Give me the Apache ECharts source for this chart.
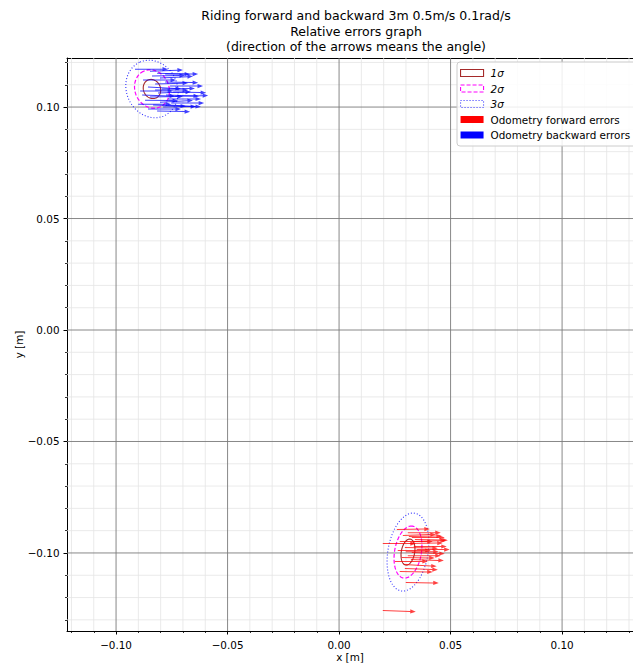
<!DOCTYPE html>
<html>
<head>
<meta charset="utf-8">
<script src="https://cdn.jsdelivr.net/npm/echarts@6/dist/echarts.min.js"></script>
<style>
  html, body { margin: 0; padding: 0; background: #ffffff; }
  #chart { width: 633px; height: 665px; }
</style>
</head>
<body>
<div id="chart"></div>
<script>
// ---- Text ----
const TITLE_LINES = [
  'Riding forward and backward 3m 0.5m/s 0.1rad/s',
  'Relative errors graph',
  '(direction of the arrows means the angle)'
];
const X_NAME = 'x [m]';
const Y_NAME = 'y [m]';
const SIGMA_NAMES = ['1σ', '2σ', '3σ'];
const SIGMA_LEVELS = [1, 2, 3];
const FORWARD_NAME = 'Odometry forward errors';
const BACKWARD_NAME = 'Odometry backward errors';

// ---- Axes ----
const X_RANGE = [-0.1220, 0.1318];
const Y_RANGE = [-0.1350, 0.1220];
const X_MAJOR = [-0.10, -0.05, 0.00, 0.05, 0.10];
const Y_MAJOR = [-0.10, -0.05, 0.00, 0.05, 0.10];
const X_MINOR = [-0.12, -0.11, -0.09, -0.08, -0.07, -0.06, -0.04, -0.03, -0.02, -0.01,
                 0.01, 0.02, 0.03, 0.04, 0.06, 0.07, 0.08, 0.09, 0.11, 0.12, 0.13];
const Y_MINOR = [-0.13, -0.12, -0.11, -0.09, -0.08, -0.07, -0.06, -0.04, -0.03, -0.02, -0.01,
                 0.01, 0.02, 0.03, 0.04, 0.06, 0.07, 0.08, 0.09, 0.11, 0.12];

// ---- Forward run: arrow tails [m] and heading error [deg] ----
const FORWARD_X = [0.0259, 0.0308, 0.0286, 0.0326, 0.0340, 0.0272, 0.0196, 0.0317, 0.0335,
                   0.0295, 0.0348, 0.0263, 0.0326, 0.0308, 0.0281, 0.0322, 0.0250, 0.0290,
                   0.0295, 0.0272, 0.0299, 0.0196, 0.0313, 0.0299, 0.0331];
const FORWARD_Y = [-0.0895, -0.0909, -0.0922, -0.0931, -0.0940, -0.0949, -0.0958, -0.0958, -0.0971,
                   -0.0976, -0.0985, -0.0989, -0.0998, -0.1012, -0.1020, -0.1029, -0.1038, -0.1052,
                   -0.1070, -0.1083, -0.1132, -0.1258, -0.0926, -0.0994, -0.0949];
const FORWARD_ANGLE = [1, 0, 2, 0, -1, 0, 0, 1, 0,
                       -1, 0, 0, -2, 0, -1, -2, 0, -3,
                       -2, -1, -1, -2, 1, 0, 2];

// ---- Backward run: arrow tails [m] and heading error [deg] ----
const BACKWARD_X = [-0.0915, -0.0816, -0.0839, -0.0803, -0.0879, -0.0780, -0.0825, -0.0758, -0.0857,
                    -0.0794, -0.0744, -0.0892, -0.0812, -0.0776, -0.0848, -0.0767, -0.0870, -0.0803,
                    -0.0753, -0.0834, -0.0901, -0.0789, -0.0816, -0.0857, -0.0780, -0.0848, -0.0735,
                    -0.0883, -0.0767, -0.0825];
const BACKWARD_Y = [0.1170, 0.1152, 0.1139, 0.1130, 0.1121, 0.1112, 0.1103, 0.1094, 0.1090,
                    0.1081, 0.1067, 0.1072, 0.1063, 0.1054, 0.1045, 0.1036, 0.1031, 0.1022,
                    0.1018, 0.1009, 0.1013, 0.1000, 0.0982, 0.0991, 0.1148, 0.1161, 0.1049,
                    0.1054, 0.1009, 0.1076];
const BACKWARD_ANGLE = [0, -2, 1, 3, 0, -1, 2, 0, -3,
                        1, -1, 0, 2, -2, 1, 0, -1, 3,
                        0, -2, 0, 1, -1, 0, 0, 2, 1,
                        -2, -3, 0];

// ---- 1-sigma error ellipses: backward cluster, forward cluster ----
const ELLIPSE_CX = [-0.0839, 0.0309];
const ELLIPSE_CY = [0.1081, -0.0996];
const ELLIPSE_A = [0.0044, 0.0059];      // semi-major axis [m]
const ELLIPSE_B = [0.0038, 0.0030];      // semi-minor axis [m]
const ELLIPSE_ANGLE = [115, 80];         // orientation of the major axis [deg]

// ---- Styles ----
const FONT = 'DejaVu Sans';
const FS = 10.4;
const ARROW_LEN = 33;   // px
const SIGMA_STYLES = [
  { stroke: '#a52a2a', lineWidth: 1.1, lineDash: null, legendDash: 'solid' },
  { stroke: '#ff00ff', lineWidth: 1.2, lineDash: [4, 2], legendDash: [4, 2] },
  { stroke: '#3030ff', lineWidth: 1.1, lineDash: [1, 2], legendDash: [1, 2] }
];

const fmtTick = v => (v < -1e-9 ? '\u2212' : '') + Math.abs(v).toFixed(2);

// grid lines built from the tick lists
const gridData = []
  .concat(X_MINOR.map(v => [v, 0, 0]))
  .concat(Y_MINOR.map(v => [v, 1, 0]))
  .concat(X_MAJOR.map(v => [v, 0, 1]))
  .concat(Y_MAJOR.map(v => [v, 1, 1]));

function renderGridLine(params, api) {
  const v = api.value(0), dir = api.value(1), major = api.value(2);
  let p1, p2;
  if (dir === 0) { p1 = api.coord([v, Y_RANGE[0]]); p2 = api.coord([v, Y_RANGE[1]]); }
  else { p1 = api.coord([X_RANGE[0], v]); p2 = api.coord([X_RANGE[1], v]); }
  return {
    type: 'line',
    shape: { x1: p1[0], y1: p1[1], x2: p2[0], y2: p2[1] },
    style: { stroke: major ? '#7a7a7a' : '#e4e4e4', lineWidth: major ? 0.9 : 0.8 }
  };
}

function makeArrowRenderer(color) {
  return function (params, api) {
    const p0 = api.coord([api.value(0), api.value(1)]);
    const a = api.value(2) * Math.PI / 180;
    const ux = Math.cos(a), uy = -Math.sin(a);
    const nx = -uy, ny = ux;
    const hl = 5.5, hw = 2.1, sw = 0.5;
    const L = ARROW_LEN;
    const b = [p0[0] + ux * (L - hl), p0[1] + uy * (L - hl)];
    const pts = [
      [p0[0] + nx * sw, p0[1] + ny * sw],
      [b[0] + nx * sw, b[1] + ny * sw],
      [b[0] + nx * hw, b[1] + ny * hw],
      [p0[0] + ux * L, p0[1] + uy * L],
      [b[0] - nx * hw, b[1] - ny * hw],
      [b[0] - nx * sw, b[1] - ny * sw],
      [p0[0] - nx * sw, p0[1] - ny * sw]
    ];
    return {
      type: 'polygon',
      shape: { points: pts },
      style: { fill: color, opacity: 0.75, stroke: 'none' }
    };
  };
}

function makeEllipseRenderer(k, st) {
  return function (params, api) {
    const cx = api.value(0), cy = api.value(1);
    const A = api.value(2) * k, B = api.value(3) * k;
    const phi = api.value(4) * Math.PI / 180;
    const pts = [];
    for (let i = 0; i < 120; i++) {
      const t = i / 120 * Math.PI * 2;
      const x = cx + A * Math.cos(t) * Math.cos(phi) - B * Math.sin(t) * Math.sin(phi);
      const y = cy + A * Math.cos(t) * Math.sin(phi) + B * Math.sin(t) * Math.cos(phi);
      pts.push(api.coord([x, y]));
    }
    const style = { fill: 'none', stroke: st.stroke, lineWidth: st.lineWidth };
    if (st.lineDash) style.lineDash = st.lineDash;
    return { type: 'polygon', shape: { points: pts }, style: style };
  };
}

const ellipseData = ELLIPSE_CX.map((cx, i) =>
  [cx, ELLIPSE_CY[i], ELLIPSE_A[i], ELLIPSE_B[i], ELLIPSE_ANGLE[i]]);
const forwardData = FORWARD_X.map((x, i) => [x, FORWARD_Y[i], FORWARD_ANGLE[i]]);
const backwardData = BACKWARD_X.map((x, i) => [x, BACKWARD_Y[i], BACKWARD_ANGLE[i]]);

const chart = echarts.init(document.getElementById('chart'), null, { renderer: 'svg', width: 633, height: 665 });

const axisText = { fontFamily: FONT, fontSize: FS, color: '#000' };

const series = [
  {
    type: 'custom', name: 'grid', silent: true, clip: true, z: 1,
    renderItem: renderGridLine, data: gridData
  }
];
SIGMA_LEVELS.forEach((k, i) => {
  series.push({
    type: 'custom', name: SIGMA_NAMES[i], silent: true, clip: true, z: 3,
    itemStyle: { color: SIGMA_STYLES[i].stroke },
    renderItem: makeEllipseRenderer(k, SIGMA_STYLES[i]), data: ellipseData
  });
});
series.push({
  type: 'custom', name: FORWARD_NAME, silent: true, clip: true, z: 4,
  itemStyle: { color: '#ff0000' },
  renderItem: makeArrowRenderer('#ff0000'), data: forwardData
});
series.push({
  type: 'custom', name: BACKWARD_NAME, silent: true, clip: true, z: 4,
  itemStyle: { color: '#0000ff' },
  renderItem: makeArrowRenderer('#0000ff'), data: backwardData
});

const legendData = SIGMA_NAMES.map((n, i) => ({
  name: n, icon: 'rect',
  itemStyle: { color: 'rgba(0,0,0,0)', borderColor: SIGMA_STYLES[i].stroke, borderWidth: 1.1, borderType: SIGMA_STYLES[i].legendDash }
})).concat([
  { name: FORWARD_NAME, icon: 'rect', itemStyle: { color: '#ff0000', borderWidth: 0 } },
  { name: BACKWARD_NAME, icon: 'rect', itemStyle: { color: '#0000ff', borderWidth: 0 } }
]);

chart.setOption({
  animation: false,
  backgroundColor: '#ffffff',
  textStyle: { fontFamily: FONT },
  graphic: [{
    type: 'text', x: 356, y: 8, silent: true,
    style: {
      text: TITLE_LINES.join('\n'), fontFamily: FONT, fontSize: 12.5, lineHeight: 15.5,
      fill: '#000', align: 'center', verticalAlign: 'top'
    }
  }],
  grid: {
    left: 67, top: 58, right: 0, height: 573,
    outerBoundsMode: 'none', containLabel: false,
    show: true, borderWidth: 0, backgroundColor: '#ffffff'
  },
  legend: {
    orient: 'vertical', left: 457, top: 62,
    itemWidth: 23, itemHeight: 7, itemGap: 3.5,
    padding: [5, 9, 5, 3],
    backgroundColor: 'rgba(255,255,255,0.85)',
    borderColor: '#cccccc', borderWidth: 1, borderRadius: 3,
    selectedMode: false,
    data: legendData,
    formatter: name => SIGMA_NAMES.indexOf(name) >= 0 ? '{s|' + name + '}' : name,
    textStyle: {
      fontFamily: FONT, fontSize: FS, color: '#000', lineHeight: 12, padding: [0, 0, 0, 2],
      rich: { s: { fontFamily: FONT, fontSize: FS, fontStyle: 'italic', color: '#000' } }
    }
  },
  xAxis: [{
    type: 'value', min: X_RANGE[0], max: X_RANGE[1], position: 'bottom',
    axisLine: { show: true, onZero: false, lineStyle: { color: '#000', width: 1 } },
    axisTick: { show: true, customValues: X_MAJOR, length: 3.5, lineStyle: { color: '#000', width: 1 } },
    axisLabel: Object.assign({ customValues: X_MAJOR, formatter: fmtTick, margin: 8.5 }, axisText),
    splitLine: { show: false },
    name: X_NAME, nameLocation: 'middle', nameGap: 21, nameMoveOverlap: false, nameTextStyle: axisText
  }, {
    type: 'value', min: X_RANGE[0], max: X_RANGE[1], position: 'bottom',
    axisLine: { show: false, onZero: false },
    axisTick: { show: true, customValues: X_MINOR, length: 2, lineStyle: { color: '#000', width: 0.8 } },
    axisLabel: { show: false },
    splitLine: { show: false }
  }, {
    // top spine
    type: 'value', min: X_RANGE[0], max: X_RANGE[1], position: 'top',
    axisLine: { show: true, onZero: false, lineStyle: { color: '#000', width: 1 } },
    axisTick: { show: false },
    axisLabel: { show: false },
    splitLine: { show: false }
  }],
  yAxis: [{
    type: 'value', min: Y_RANGE[0], max: Y_RANGE[1], position: 'left',
    axisLine: { show: true, onZero: false, lineStyle: { color: '#000', width: 1 } },
    axisTick: { show: true, customValues: Y_MAJOR, length: 3.5, lineStyle: { color: '#000', width: 1 } },
    axisLabel: Object.assign({ customValues: Y_MAJOR, formatter: fmtTick, margin: 7.5 }, axisText),
    splitLine: { show: false },
    name: Y_NAME, nameLocation: 'middle', nameGap: 43, nameRotate: 90, nameMoveOverlap: false,
    nameTextStyle: axisText
  }, {
    type: 'value', min: Y_RANGE[0], max: Y_RANGE[1], position: 'left',
    axisLine: { show: false, onZero: false },
    axisTick: { show: true, customValues: Y_MINOR, length: 2, lineStyle: { color: '#000', width: 0.8 } },
    axisLabel: { show: false },
    splitLine: { show: false }
  }],
  series: series
});
</script>
</body>
</html>
